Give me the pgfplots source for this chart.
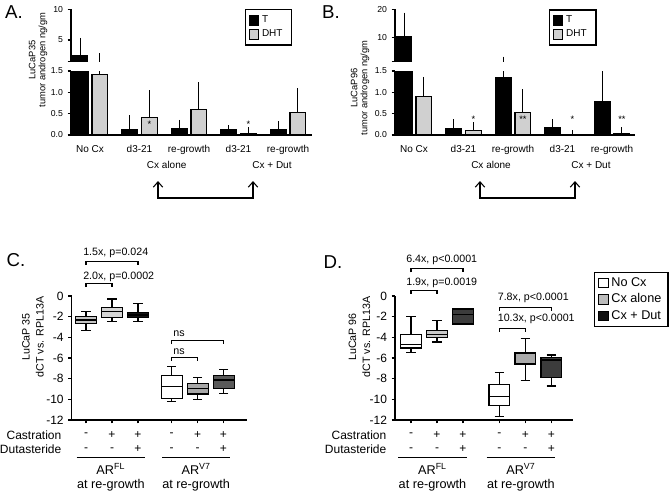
\documentclass[border=0pt]{standalone}
\usepackage{fontspec}
\setmainfont{Liberation Sans}
\usepackage{pgfplots}
\pgfplotsset{compat=1.18}
\usepackage{pgfplotstable}
\usepgfplotslibrary{statistics}
\usetikzlibrary{arrows.meta}

\definecolor{dhtgray}{HTML}{D0D0D0}

% tumor androgen, T bars at group-0.2, DHT at group+0.2 ; e = upper SD
\pgfplotstableread{
x    y     e
0.8  2.55  2.15
1.8  0.12  0.255
2.8  0.14  0.12
3.8  0.12  0.02
4.8  0.12  0.11
}\AT
\pgfplotstableread{
x    y     e
1.2  1.41  0.76
2.2  0.40  0.55
3.2  0.59  0.55
4.2  0.04  0.05
5.2  0.53  0.47
}\AD
\pgfplotstableread{
x    y     e
0.8  10.6  6.8
1.8  0.15  0.13
2.8  1.34  0.46
3.8  0.17  0.11
4.8  0.78  0.72
}\BT
\pgfplotstableread{
x    y     e
1.2  0.90  0.37
2.2  0.11  0.09
3.2  0.53  0.45
4.2  0.02  0.0
5.2  0.04  0.05
}\BD

\pgfplotsset{
  gp/.style={
    scale only axis, anchor=south west,
    axis line style={line width=0.9pt},
    tick align=outside, major tick length=2.5pt,
    tick style={line width=0.9pt, black},
    clip marker paths=true,
  },
  small ticks/.style={
    yticklabel style={font=\fontsize{6.5}{7}\selectfont},
    xticklabel style={font=\fontsize{7.5}{8}\selectfont, yshift=-1.5pt},
  },
  errs/.style={
    error bars/y dir=plus, error bars/y explicit,
    error bars/error bar style={draw=black, line width=0.8pt},
    error bars/error mark options={draw=black, mark size=3pt, line width=0.8pt}},
  bars/.style={ybar, bar width=0.32, bar shift=0pt, draw=black, line width=0.8pt, errs},
  upper/.style={
    axis x line=none, axis y line*=left, xtick=\empty,
    legend image code/.code={\draw[##1, line width=0.8pt] (0pt,-3.5pt) rectangle (7pt,3.5pt);},
    legend style={anchor=north west, draw=black, line width=0.9pt,
      font=\fontsize{7.5}{8}\selectfont, legend cell align=left, inner sep=2.5pt}},
  bp/.style={forget plot, draw=black, line width=0.8pt, solid},
  boxplot/draw direction=y,
  boxplot/box extend=0.8,
  boxplot/whisker extend=0.36,
}

\begin{document}
\begin{tikzpicture}
\path[use as bounding box] (0pt,0pt) rectangle (504pt,-370.5pt);

% ---------- A ----------
\begin{axis}[gp, small ticks, at={(53.25pt,-101.25pt)}, width=180.75pt, height=48pt,
  xmin=0.616, xmax=5.485, ymin=0, ymax=1.5,
  axis x line*=bottom, axis y line*=left,
  xtick={1,2,3,4,5}, xticklabels={No Cx,d3-21,re-growth,d3-21,re-growth},
  x tick style={draw=none},
  ytick={0,0.5,1,1.5}, yticklabels={0.0,0.5,1.0,1.5}]
  \addplot[bars, fill=black] table[x=x, y=y, y error=e] {\AT};
  \addplot[bars, fill=dhtgray] table[x=x, y=y, y error=e] {\AD};
  \node[font=\fontsize{7}{7}\selectfont] at (axis cs:2.2,0.24) {*};
  \node[font=\fontsize{7}{7}\selectfont] at (axis cs:4.2,0.26) {*};
\end{axis}
% upper part of the broken axis
\begin{axis}[gp, small ticks, upper, at={(53.25pt,-46.125pt)}, width=180.75pt, height=39.15pt,
  xmin=0.616, xmax=5.485, ymin=1.5, ymax=10,
  ytick={1.5,5,10}, yticklabels={,5,10},
  legend style={at={(0.722,1.0)}}]
  \addplot[bars, fill=black, draw=none, forget plot, restrict y to domain=1.5:100] table[x=x, y=y, y error=e] {\AT};
  \addplot[draw=none, mark=none, forget plot, errs] coordinates {(1.2,1.41) +- (0,0.76)};
  \addlegendimage{fill=black, draw=black}
  \addlegendimage{fill=dhtgray, draw=black}
  \legend{T,DHT\,\,}
\end{axis}

% ---------- B ----------
\begin{axis}[gp, small ticks, at={(296.25pt,-101.25pt)}, width=180pt, height=48pt,
  xmin=0.616, xmax=5.465, ymin=0, ymax=1.5,
  axis x line*=bottom, axis y line*=left,
  xtick={1,2,3,4,5}, xticklabels={No Cx,d3-21,re-growth,d3-21,re-growth},
  x tick style={draw=none},
  ytick={0,0.5,1,1.5}, yticklabels={0.0,0.5,1.0,1.5}]
  \addplot[bars, fill=black] table[x=x, y=y, y error=e] {\BT};
  \addplot[bars, fill=dhtgray] table[x=x, y=y, y error=e] {\BD};
  \node[font=\fontsize{7}{7}\selectfont] at (axis cs:2.2,0.38) {*};
  \node[font=\fontsize{7}{7}\selectfont] at (axis cs:3.2,0.36) {**};
  \node[font=\fontsize{7}{7}\selectfont] at (axis cs:4.2,0.37) {*};
  \node[font=\fontsize{7}{7}\selectfont] at (axis cs:5.2,0.37) {**};
\end{axis}
\begin{axis}[gp, small ticks, upper, at={(296.25pt,-46.125pt)}, width=180pt, height=39.15pt,
  xmin=0.616, xmax=5.465, ymin=1.5, ymax=20,
  ytick={1.5,10,20}, yticklabels={,10,20},
  legend style={at={(0.642,1.0)}}]
  \addplot[bars, fill=black, draw=none, forget plot, restrict y to domain=1.5:100] table[x=x, y=y, y error=e] {\BT};
  \addplot[draw=none, mark=none, forget plot, errs] coordinates {(2.8,1.34) +- (0,0.46)};
  \addlegendimage{fill=black, draw=black}
  \addlegendimage{fill=dhtgray, draw=black}
  \legend{T,DHT\,\,}
\end{axis}

% ---------- C ----------
\begin{axis}[gp, at={(53.775pt,-315pt)}, width=131.25pt, height=93pt,
  xmin=0.45, xmax=7.18, ymin=-12, ymax=0, clip=false,
  axis x line*=bottom, axis y line*=left,
  xtick={1,2,3,4.3,5.3,6.3}, xticklabels={},
  ytick={-12,-10,-8,-6,-4,-2,0}, yticklabels={-12,-10,-8,-6,-4,-2,0},
  yticklabel style={font=\fontsize{9}{9}\selectfont}]
  \addplot[bp, fill={rgb,255:red,196;green,196;blue,196}, boxplot prepared={draw position=1,
    lower whisker=-3.35, lower quartile=-2.65, median=-2.32, upper quartile=-2.0, upper whisker=-1.52}] coordinates {};
  \addplot[bp, fill={rgb,255:red,214;green,214;blue,214}, boxplot prepared={draw position=2,
    lower whisker=-2.48, lower quartile=-2.06, median=-1.48, upper quartile=-1.1, upper whisker=-0.29}] coordinates {};
  \addplot[bp, fill={rgb,255:red,20;green,20;blue,20}, boxplot prepared={draw position=3,
    lower whisker=-2.48, lower quartile=-2.06, median=-1.84, upper quartile=-1.6, upper whisker=-0.71}] coordinates {};
  \addplot[bp, fill=white, boxplot prepared={draw position=4.3,
    lower whisker=-10.23, lower quartile=-9.9, median=-8.77, upper quartile=-7.65, upper whisker=-6.84}] coordinates {};
  \addplot[bp, fill={rgb,255:red,168;green,168;blue,168}, boxplot prepared={draw position=5.3,
    lower whisker=-10.06, lower quartile=-9.48, median=-8.94, upper quartile=-8.45, upper whisker=-7.9}] coordinates {};
  \addplot[bp, fill={rgb,255:red,90;green,90;blue,90}, boxplot prepared={draw position=6.3,
    lower whisker=-9.42, lower quartile=-8.94, median=-8.13, upper quartile=-7.65, upper whisker=-7.1}] coordinates {};
  % brackets
  \draw[line width=0.8pt] (axis cs:1,3.0) |- (axis cs:3,3.32) -- (axis cs:3,3.0);
  \draw[line width=0.8pt] (axis cs:1,0.87) |- (axis cs:2,1.23) -- (axis cs:2,0.87);
  \draw[line width=0.8pt] (axis cs:4.3,-4.65) |- (axis cs:6.3,-4.33) -- (axis cs:6.3,-4.65);
  \draw[line width=0.8pt] (axis cs:4.3,-6.26) |- (axis cs:5.3,-5.93) -- (axis cs:5.3,-6.26);
  \begin{scope}[every node/.style={anchor=west, inner sep=0pt, font=\fontsize{8}{9}\selectfont}]
  \node at (axis cs:0.885,4.16) {1.5x, p=0.024};
  \node at (axis cs:0.885,1.87) {2.0x, p=0.0002};
  \node at (axis cs:4.35,-3.68) {ns};
  \node at (axis cs:4.35,-5.39) {ns};
  \end{scope}
\end{axis}

% ---------- D ----------
\begin{axis}[gp, at={(296.25pt,-315pt)}, width=133.3pt, height=93pt,
  xmin=0.385, xmax=7.22, ymin=-12, ymax=0, clip=false,
  axis x line*=bottom, axis y line*=left,
  xtick={1,2,3,4.4,5.4,6.4}, xticklabels={},
  ytick={-12,-10,-8,-6,-4,-2,0}, yticklabels={-12,-10,-8,-6,-4,-2,0},
  yticklabel style={font=\fontsize{9}{9}\selectfont},
  legend image code/.code={\draw[#1, line width=0.8pt] (0pt,-3.5pt) rectangle (7pt,3.5pt);},
  legend style={at={(1.118,1.196)}, anchor=north west, draw=black, line width=0.9pt,
    font=\fontsize{9.5}{10}\selectfont, legend cell align=left}]
  \addplot[bp, fill=white, boxplot prepared={draw position=1,
    lower whisker=-5.48, lower quartile=-5.03, median=-4.68, upper quartile=-3.71, upper whisker=-2.0}] coordinates {};
  \addplot[bp, fill={rgb,255:red,200;green,200;blue,200}, boxplot prepared={draw position=2,
    lower whisker=-4.45, lower quartile=-4.0, median=-3.68, upper quartile=-3.35, upper whisker=-2.39}] coordinates {};
  \addplot[bp, fill={rgb,255:red,60;green,60;blue,60}, boxplot prepared={draw position=3,
    lower whisker=-2.71, lower quartile=-2.71, median=-1.77, upper quartile=-1.26, upper whisker=-1.26}] coordinates {};
  \addplot[bp, fill=white, boxplot prepared={draw position=4.4,
    lower whisker=-11.68, lower quartile=-10.58, median=-9.74, upper quartile=-8.52, upper whisker=-7.42}] coordinates {};
  \addplot[bp, fill={rgb,255:red,170;green,170;blue,170}, boxplot prepared={draw position=5.4,
    lower whisker=-8.19, lower quartile=-6.58, median=-5.55, upper quartile=-5.48, upper whisker=-4.13}] coordinates {};
  \addplot[bp, fill={rgb,255:red,60;green,60;blue,60}, boxplot prepared={draw position=6.4,
    lower whisker=-8.71, lower quartile=-7.9, median=-6.19, upper quartile=-5.97, upper whisker=-5.71}] coordinates {};
  \addlegendimage{fill=white, draw=black}
  \addlegendimage{fill={rgb,255:red,187;green,187;blue,187}, draw=black}
  \addlegendimage{fill={rgb,255:red,17;green,17;blue,17}, draw=black}
  \legend{No Cx,Cx alone,Cx + Dut}
  \draw[line width=0.8pt] (axis cs:1,2.29) |- (axis cs:3,2.64) -- (axis cs:3,2.29);
  \draw[line width=0.8pt] (axis cs:1,0.22) |- (axis cs:2,0.55) -- (axis cs:2,0.22);
  \draw[line width=0.8pt] (axis cs:4.4,-1.42) |- (axis cs:6.4,-1.09) -- (axis cs:6.4,-1.42);
  \draw[line width=0.8pt] (axis cs:4.4,-3.46) |- (axis cs:5.4,-3.13) -- (axis cs:5.4,-3.46);
  \begin{scope}[every node/.style={anchor=west, inner sep=0pt, font=\fontsize{8}{9}\selectfont}]
  \node at (axis cs:0.81,3.48) {6.4x, p<0.0001};
  \node at (axis cs:0.81,1.23) {1.9x, p=0.0019};
  \node at (axis cs:4.33,-0.22) {7.8x, p<0.0001};
  \node at (axis cs:4.33,-2.26) {10.3x, p<0.0001};
  \end{scope}
\end{axis}

% ---------- labels in pixel units ----------
\begin{scope}[x=0.75pt, y=-0.75pt]
  \begin{scope}[every node/.style={font=\fontsize{14}{14}\selectfont}]
  \node at (14,12) {A.};
  \node at (331,12) {B.};
  \node at (16,260) {C.};
  \node at (333,262) {D.};
  \end{scope}
  \node[rotate=90, align=center, font=\fontsize{7}{7.5}\selectfont] at (38,60) {LuCaP35\\tumor androgen ng/gm};
  \node[rotate=90, align=center, font=\fontsize{7}{7.5}\selectfont] at (360,88) {LuCaP96\\tumor androgen ng/gm};
  \begin{scope}[every node/.style={font=\fontsize{7.5}{8}\selectfont}]
  \node at (166.7,165) {Cx alone};
  \node at (272,165) {Cx + Dut};
  \node at (491,165) {Cx alone};
  \node at (591,165) {Cx + Dut};
  \end{scope}
  \draw[line width=0.8pt, {Straight Barb[length=4pt,width=7pt]}-{Straight Barb[length=4pt,width=7pt]}]
    (158,181) -- (158,198) -- (253,198) -- (253,181);
  \draw[line width=0.8pt, {Straight Barb[length=4pt,width=7pt]}-{Straight Barb[length=4pt,width=7pt]}]
    (480,181) -- (480,198) -- (575,198) -- (575,181);
  \node[rotate=90, align=center, font=\fontsize{8}{10.5}\selectfont] at (33,337) {LuCaP 35\\dCT vs. RPL13A};
  \node[rotate=90, align=center, font=\fontsize{8}{10.5}\selectfont] at (359.5,337) {LuCaP 96\\dCT vs. RPL13A};
  \begin{scope}[every node/.style={font=\fontsize{9}{10}\selectfont}]
  \node[anchor=east] at (66,435) {Castration};
  \node[anchor=east] at (66,449.3) {Dutasteride};
  \node[anchor=east] at (391,435) {Castration};
  \node[anchor=east] at (391,449.3) {Dutasteride};
  \foreach \x/\a/\b in {86/-/-, 112/+/-, 138/+/+, 171.7/-/-, 197.7/+/-, 223.3/+/+,
                        411/-/-, 437/+/-, 463/+/+, 499.4/-/-, 525.4/+/-, 551.4/+/+} {
    \node at (\x,435) {\a};
    \node at (\x,449.3) {\b};
  }
  \end{scope}
  \draw[line width=0.8pt] (76.7,457.3) -- (145,457.3);
  \draw[line width=0.8pt] (162.3,457.3) -- (230,457.3);
  \draw[line width=0.8pt] (398.3,457.3) -- (466.7,457.3);
  \draw[line width=0.8pt] (486.7,457.3) -- (555,457.3);
  \begin{scope}[every node/.style={align=center, anchor=north, inner sep=1pt, font=\fontsize{9.5}{10.5}\selectfont}]
  \node at (110.8,462) {AR\textsuperscript{FL}\\at re-growth};
  \node at (196.2,462) {AR\textsuperscript{V7}\\at re-growth};
  \node at (432.5,462) {AR\textsuperscript{FL}\\at re-growth};
  \node at (520.9,462) {AR\textsuperscript{V7}\\at re-growth};
  \end{scope}
\end{scope}
\end{tikzpicture}
\end{document}
